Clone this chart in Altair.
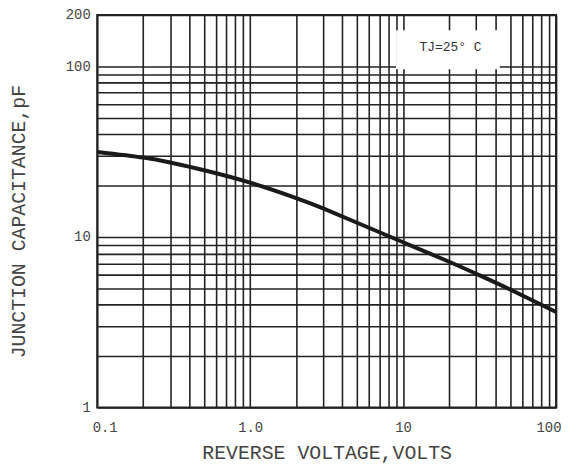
import altair as alt
import pandas as pd

# Curve (reverse voltage V -> junction capacitance pF)
VOLTS = [0.1, 0.2, 0.3, 0.5, 1.0, 2.0, 3.0, 5.0, 10.0, 20.0, 30.0, 50.0, 100.0]
CAP_PF = [31.5, 29.2, 27.3, 24.6, 20.8, 16.9, 14.7, 12.1, 9.3, 7.15, 6.08, 4.92, 3.63]

# Axes
X_DOMAIN = [0.1, 100]
Y_DOMAIN = [1, 200]
MANTISSAS = [1, 2, 3, 4, 5, 6, 7, 8, 9]
X_DECADES = [0.1, 1, 10]
Y_DECADES = [1, 10]
X_LABEL_VALUES = [0.1, 1, 10, 100]
X_LABEL_TEXT = ["0.1", "1.0", "10", "100"]
Y_LABEL_VALUES = [1, 10, 100, 200]
Y_LABEL_TEXT = ["1", "10", "100", "200"]

# Annotation
NOTE_TEXT = ["TJ=25° C"]
NOTE_X = [20.4]
NOTE_Y = [130]
NOTE_BOX_X = [9.0, 42.9]
NOTE_BOX_Y = [96, 163]

x_grid = [round(m * d, 6) for d in X_DECADES for m in MANTISSAS] + [100]
y_grid = [round(m * d, 6) for d in Y_DECADES for m in MANTISSAS] + [100, 200]


def label_expr(values, texts):
    parts = [f"datum.value == {v} ? '{t}'" for v, t in zip(values, texts)]
    return " : ".join(parts) + " : ''"


FONT = "Liberation Mono"

x_scale = alt.Scale(type="log", domain=X_DOMAIN, nice=False)
y_scale = alt.Scale(type="log", domain=Y_DOMAIN, nice=False)

x_axis = alt.Axis(
    values=x_grid,
    labelExpr=label_expr(X_LABEL_VALUES, X_LABEL_TEXT),
    labelOverlap=False,
    ticks=False,
    domain=False,
    grid=True,
    gridColor="#222222",
    gridWidth=1.6,
    gridOpacity=1,
    labelFont=FONT,
    labelFontSize=14,
    labelColor="#444444",
    labelPadding=13,
    labelFlush=True,
    labelFlushOffset=5,
    title="REVERSE VOLTAGE,VOLTS",
    titleFont=FONT,
    titleFontSize=20,
    titleFontWeight="normal",
    titleColor="#444444",
    titleBaseline="alphabetic",
    titleY=52,
)
y_axis = alt.Axis(
    values=y_grid,
    labelExpr=label_expr(Y_LABEL_VALUES, Y_LABEL_TEXT),
    labelOverlap=False,
    ticks=False,
    domain=False,
    grid=True,
    gridColor="#222222",
    gridWidth=1.6,
    gridOpacity=1,
    labelFont=FONT,
    labelFontSize=14,
    labelColor="#444444",
    labelPadding=7,
    title="JUNCTION CAPACITANCE,pF",
    titleFont=FONT,
    titleFontSize=20,
    titleFontWeight="normal",
    titleColor="#444444",
    titleBaseline="alphabetic",
    titleX=-73,
    titleY=208,
)

curve_df = pd.DataFrame({"V": VOLTS, "C": CAP_PF})
box_df = pd.DataFrame(
    {"V": [NOTE_BOX_X[0]], "V2": [NOTE_BOX_X[1]], "C": [NOTE_BOX_Y[0]], "C2": [NOTE_BOX_Y[1]]}
)
note_df = pd.DataFrame({"V": NOTE_X, "C": NOTE_Y, "t": NOTE_TEXT})

curve = alt.Chart(curve_df).mark_line(
    color="#1a1a1a", strokeWidth=4, interpolate="natural"
).encode(
    x=alt.X("V:Q", scale=x_scale, axis=x_axis),
    y=alt.Y("C:Q", scale=y_scale, axis=y_axis),
)

box = alt.Chart(box_df).mark_rect(fill="white").encode(
    x=alt.X("V:Q", scale=x_scale, axis=x_axis),
    x2="V2:Q",
    y=alt.Y("C:Q", scale=y_scale, axis=y_axis),
    y2="C2:Q",
)

note = alt.Chart(note_df).mark_text(
    font=FONT, fontSize=13, color="#333333", align="center", baseline="middle"
).encode(
    x=alt.X("V:Q", scale=x_scale, axis=x_axis),
    y=alt.Y("C:Q", scale=y_scale, axis=y_axis),
    text="t:N",
)

chart = (
    alt.layer(box, curve, note)
    .properties(
        width=463,
        height=396,
        autosize=alt.AutoSizeParams(type="none"),
        padding={"left": 90, "top": 5, "right": 5, "bottom": 57},
        background="white",
    )
    .configure_view(stroke="#222222", strokeWidth=2)
)

chart.save("out.html", embed_options={"renderer": "svg", "actions": False})
